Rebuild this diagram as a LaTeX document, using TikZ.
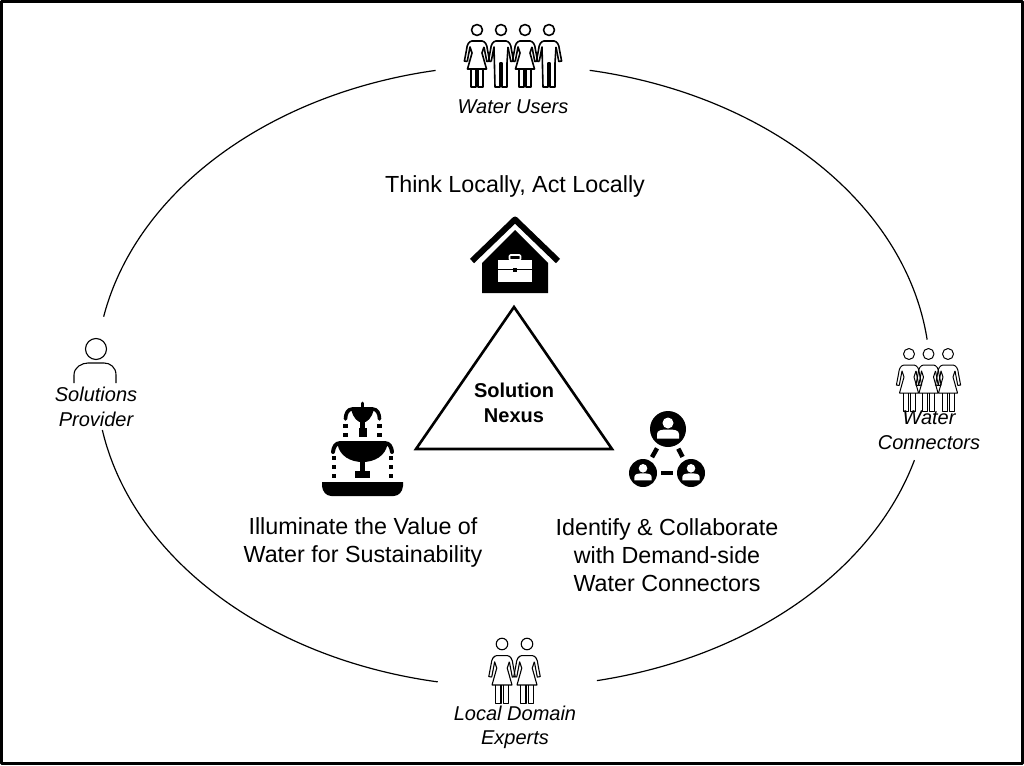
\documentclass[tikz,border=0pt]{standalone}
\usepackage{fontspec}
\setmainfont{Liberation Sans}
\usetikzlibrary{positioning, shapes.geometric}

\tikzset{
    pics/woman/.style={code={
        \draw (0,0) circle[radius=5.5];
        \draw (-9.8,-31.5) -- (-12.6,-31) -- (-10.5,-20) .. controls (-10,-14) and (-8,-11.5) .. (-5,-11) -- (5,-11)
            .. controls (8,-11.5) and (10,-14) .. (10.5,-20) -- (12.6,-31) -- (9.8,-31.5) -- (7,-17);
        \draw (-9.8,-31.5) -- (-7,-17) -- (-5,-23) -- (-9.5,-39) -- (9.5,-39) -- (5,-23) -- (7,-17);
        \draw (-6,-39) -- (-6,-57) -- (-1,-57) -- (-1,-39);
        \draw (1,-39) -- (1,-57) -- (6,-57) -- (6,-39);
    }},
    pics/man/.style={code={
        \draw (0,0) circle[radius=5.5];
        \draw (-9.8,-31.5) -- (-12.6,-31) -- (-10.5,-20) .. controls (-10,-14) and (-8,-11.5) .. (-5,-11) -- (5,-11)
            .. controls (8,-11.5) and (10,-14) .. (10.5,-20) -- (12.6,-31) -- (9.8,-31.5) -- (7,-17);
        \draw (-9.8,-31.5) -- (-7,-17) -- (-6,-57) -- (-1,-57) -- (-1,-33) -- (1,-33) -- (1,-57) -- (6,-57) -- (6,-33) -- (7,-17);
    }},
    pics/provider/.style={code={
        \draw (0,0) circle[radius=10.5];
        \draw (-22,-34) -- (-22,-26) .. controls (-22,-18) and (-14,-14) .. (-8,-14) -- (8,-14)
            .. controls (14,-14) and (20,-18) .. (20,-26) -- (20,-34);
    }},
    pics/house/.style={code={
        \draw[line width=6,miter limit=10] (-43,-6) -- (0,35.5) -- (43,-6);
        \fill (0,25) -- (33,-8) -- (33,-38) -- (-33,-38) -- (-33,-8) -- cycle;
        \fill[white] (-17,-5) rectangle (17,-27);
        \draw[white,line width=1.6,rounded corners=1] (-5.5,-5) rectangle (5.5,0);
        \draw[line width=1.5] (-17,-14.5) -- (17,-14.5);
        \fill (-2,-12.5) rectangle (2,-16.5);
    }},
    pics/fountain/.style={code={
        \fill (-40.5,-32) -- (40.5,-32) -- (40.5,-36) .. controls (40,-42) and (36,-46) .. (31,-46)
            -- (-31,-46) .. controls (-36,-46) and (-40,-42) .. (-40.5,-36) -- cycle;
        \fill (-7.5,-21) rectangle (7.5,-28);
        \fill (-2.5,-8) rectangle (2.5,-22);
        \fill (-25,6) -- (25,6) .. controls (23,-6) and (12,-12) .. (0,-12) .. controls (-12,-12) and (-23,-6) .. (-25,6) -- cycle;
        \draw[line width=4,line cap=round] (-29.5,-2) .. controls (-29,3) and (-27,7) .. (-22,7) -- (22,7)
            .. controls (27,7) and (29,3) .. (29.5,-2);
        \fill (-11,40) -- (11,40) .. controls (9.5,32) and (5,28) .. (0,27) .. controls (-5,28) and (-9.5,32) .. (-11,40) -- cycle;
        \fill (-4,13) rectangle (4,22);
        \fill (-2.5,20) rectangle (2.5,30);
        \draw[line width=3.6,line cap=round] (-17,31) .. controls (-17,36) and (-15,41) .. (-10,41) -- (10,41)
            .. controls (15,41) and (17,36) .. (17,31);
        \draw[line width=3,line cap=round] (0,40) -- (0,47);
        \foreach \s in {-1,1} {
            \foreach \h in {-8,-17,-26} {\fill (\s*28.5-2.2,\h-2.2) rectangle (\s*28.5+2.2,\h+2.2);}
            \foreach \h in {15,24} {\fill (\s*17-2.2,\h-2.2) rectangle (\s*17+2.2,\h+2.2);}
        }
    }},
    pics/netface/.style={code={
        \fill[white] (0,6) circle[radius=5.5];
        \fill[white] (-11,-9.5) -- (-11,-5) .. controls (-11,-1) and (-6,-0.5) .. (0,-0.5)
            .. controls (6,-0.5) and (11,-1) .. (11,-5) -- (11,-9.5) -- cycle;
    }},
}

\begin{document}
\begin{tikzpicture}[x=1pt,y=1pt,line join=round,
        frame/.style={draw=black,line width=3},
        ring/.style={draw=black,line width=1.2},
        bigtext/.style={align=center,inner sep=0,font=\fontsize{23.3}{28}\selectfont},
        roletext/.style={align=center,inner sep=0,font=\fontsize{20}{24.5}\selectfont\itshape},
        nexustext/.style={align=center,inner sep=0,font=\fontsize{20}{24.5}\selectfont\bfseries},
        netdisc/.style={circle,fill=black,inner sep=0},
        netlink/.style={line width=4.5,shorten >=4pt,shorten <=4pt}]

    \useasboundingbox (0,0) rectangle (1024,-765);
    \draw[frame] (1.5,-1.5) rectangle (1022.5,-763.5);

    \begin{scope}[shift={(513,-376)}]
        \foreach \a/\b in {79.4/6.7, 100.7/169, 190/259.6, 281.6/344.3}
            \draw[ring] (\a:417 and 311) arc[start angle=\a,end angle=\b,x radius=417,y radius=311];
    \end{scope}

    \node[roletext] (n_users) at (513,-107) {Water Users};
    \node[bigtext] (n_think) at (515,-186.5) {Think Locally, Act Locally};
    \node[nexustext] (n_nexus) at (514,-403) {Solution\\Nexus};
    \node[bigtext] (n_value) at (363,-542) {Illuminate the Value of\\Water for Sustainability};
    \node[bigtext] (n_demand) at (667,-555) {Identify \& Collaborate\\with Demand-side\\Water Connectors};
    \node[roletext] (n_provider) at (96,-407) {Solutions\\Provider};
    \node[roletext] (n_local) at (515,-727.5) {Local Domain\\Experts};

    \pic[line width=1.6] at (477,-30) {woman};
    \pic[line width=1.6] at (501,-30) {man};
    \pic[line width=1.6] at (525,-30) {woman};
    \pic[line width=1.6] at (549,-30) {man};

    \pic[line width=1] at (909,-354) {woman};
    \pic[line width=1] at (928.5,-354) {woman};
    \pic[line width=1] at (948,-354) {woman};
    \node[roletext] (n_connect) at (929,-430) {Water\\Connectors};

    \pic[line width=1.1,scale=1.05] at (502,-644) {woman};
    \pic[line width=1.1,scale=1.05] at (527,-644) {woman};

    \pic[line width=1.1] at (96,-349) {provider};
    \pic at (515,-255) {house};
    \pic at (362.5,-450) {fountain};

    \coordinate (t_top) at (514,-307);
    \coordinate (t_left) at (416,-449);
    \coordinate (t_right) at (612,-449);
    \draw[line width=2.6,line join=miter] (t_top) -- (t_left) -- (t_right) -- cycle;

    \node[netdisc,minimum size=36] (net_top) at (668,-429) {};
    \node[netdisc,minimum size=28] (net_left) at (643,-473) {};
    \node[netdisc,minimum size=28] (net_right) at (691,-473) {};
    \pic at (net_top) {netface};
    \pic[scale=0.78] at (net_left) {netface};
    \pic[scale=0.78] at (net_right) {netface};
    \draw[netlink] (net_top) -- (net_left);
    \draw[netlink] (net_top) -- (net_right);
    \draw[netlink] (net_left) -- (net_right);
\end{tikzpicture}
\end{document}
